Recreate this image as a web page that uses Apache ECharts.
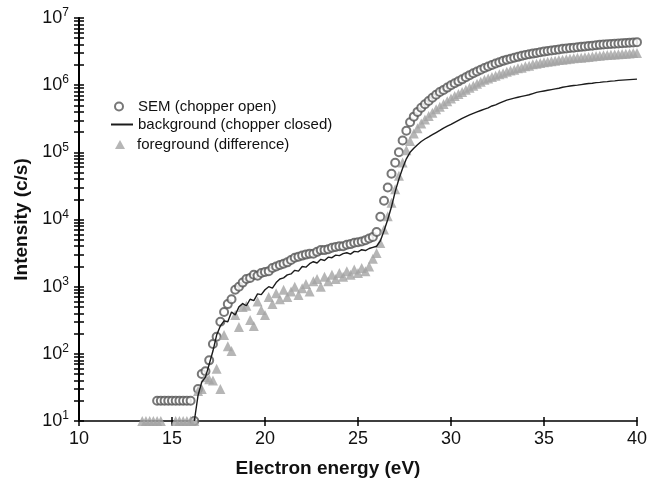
<!DOCTYPE html>
<html>
<head>
<meta charset="utf-8">
<script src="https://cdn.jsdelivr.net/npm/echarts@6/dist/echarts.min.js"></script>
<style>
  html, body { margin: 0; padding: 0; background: #fff; }
  #chart { width: 650px; height: 483px; }
</style>
</head>
<body>
<div id="chart"></div>
<script>
// energy grid (eV), one row = 2 eV
const energy = [
  13.4, 13.6, 13.8, 14.0, 14.2, 14.4, 14.6, 14.8, 15.0, 15.2,
  15.4, 15.6, 15.8, 16.0, 16.2, 16.4, 16.6, 16.8, 17.0, 17.2,
  17.4, 17.6, 17.8, 18.0, 18.2, 18.4, 18.6, 18.8, 19.0, 19.2,
  19.4, 19.6, 19.8, 20.0, 20.2, 20.4, 20.6, 20.8, 21.0, 21.2,
  21.4, 21.6, 21.8, 22.0, 22.2, 22.4, 22.6, 22.8, 23.0, 23.2,
  23.4, 23.6, 23.8, 24.0, 24.2, 24.4, 24.6, 24.8, 25.0, 25.2,
  25.4, 25.6, 25.8, 26.0, 26.2, 26.4, 26.6, 26.8, 27.0, 27.2,
  27.4, 27.6, 27.8, 28.0, 28.2, 28.4, 28.6, 28.8, 29.0, 29.2,
  29.4, 29.6, 29.8, 30.0, 30.2, 30.4, 30.6, 30.8, 31.0, 31.2,
  31.4, 31.6, 31.8, 32.0, 32.2, 32.4, 32.6, 32.8, 33.0, 33.2,
  33.4, 33.6, 33.8, 34.0, 34.2, 34.4, 34.6, 34.8, 35.0, 35.2,
  35.4, 35.6, 35.8, 36.0, 36.2, 36.4, 36.6, 36.8, 37.0, 37.2,
  37.4, 37.6, 37.8, 38.0, 38.2, 38.4, 38.6, 38.8, 39.0, 39.2,
  39.4, 39.6, 39.8, 40.0
]

// SEM (chopper open)
const semCounts = [
  null, null, null, null, 20, 20, 20, 20, 20, 20,
  20, 20, 20, 20, 10, 30, 50, 55, 80, 140,
  180, 300, 420, 550, 650, 900, 1000, 1150, 1300, 1350,
  1500, 1450, 1600, 1650, 1700, 1900, 2000, 2100, 2200, 2300,
  2500, 2700, 2800, 2900, 3000, 3100, 3100, 3300, 3500, 3500,
  3600, 3800, 3900, 4000, 4000, 4200, 4300, 4500, 4600, 4700,
  4900, 5200, 5500, 6500, 11000, 19000, 30000, 48000, 70000, 100000,
  1.5e5, 2.1e5, 2.8e5, 3.4e5, 4.0e5, 4.6e5, 5.2e5, 5.8e5, 6.5e5, 7.2e5,
  7.9e5, 8.5e5, 9.2e5, 1.0e6, 1.07e6, 1.14e6, 1.22e6, 1.31e6, 1.41e6, 1.5e6,
  1.6e6, 1.7e6, 1.8e6, 1.9e6, 2.0e6, 2.1e6, 2.2e6, 2.3e6, 2.4e6, 2.48e6,
  2.56e6, 2.64e6, 2.73e6, 2.82e6, 2.88e6, 2.95e6, 3.02e6, 3.09e6, 3.16e6, 3.22e6,
  3.28e6, 3.34e6, 3.4e6, 3.47e6, 3.52e6, 3.57e6, 3.62e6, 3.67e6, 3.72e6, 3.77e6,
  3.82e6, 3.87e6, 3.93e6, 3.98e6, 4.02e6, 4.06e6, 4.1e6, 4.13e6, 4.17e6, 4.21e6,
  4.25e6, 4.29e6, 4.33e6, 4.37e6
]

// background (chopper closed)
const backgroundCounts = [
  null, null, null, null, null, null, null, null, null, null,
  null, null, null, null, 10, 24, 38, 45, 70, 110,
  190, 260, 310, 300, 420, 380, 500, 560, 520, 650,
  620, 780, 760, 900, 1000, 950, 1150, 1300, 1350, 1500,
  1550, 1750, 1700, 2000, 1950, 2200, 2350, 2250, 2550, 2450,
  2750, 2700, 2950, 2900, 3100, 3200, 3050, 3350, 3300, 3550,
  3450, 3700, 3850, 4000, 4800, 6800, 10000, 15500, 26000, 40000,
  58000, 80000, 1.0e5, 1.15e5, 1.3e5, 1.45e5, 1.58e5, 1.7e5, 1.83e5, 1.97e5,
  2.12e5, 2.3e5, 2.45e5, 2.6e5, 2.8e5, 3.0e5, 3.2e5, 3.4e5, 3.6e5, 3.8e5,
  4.0e5, 4.2e5, 4.4e5, 4.6e5, 4.9e5, 5.1e5, 5.4e5, 5.7e5, 6.0e5, 6.2e5,
  6.4e5, 6.6e5, 6.8e5, 7.0e5, 7.2e5, 7.5e5, 7.8e5, 8.0e5, 8.2e5, 8.4e5,
  8.6e5, 8.8e5, 9.0e5, 9.3e5, 9.5e5, 9.7e5, 9.9e5, 1.0e6, 1.02e6, 1.04e6,
  1.06e6, 1.07e6, 1.09e6, 1.1e6, 1.12e6, 1.13e6, 1.15e6, 1.16e6, 1.18e6, 1.19e6,
  1.2e6, 1.21e6, 1.22e6, 1.23e6
]

// foreground (difference)
const foregroundCounts = [
  10, 10, 10, 10, 10, 10, null, null, null, 10,
  10, 10, 10, 10, 10, 28, 30, 45, 42, 40,
  60, 30, 190, 130, 110, 380, 250, 500, 520, 320,
  260, 600, 450, 380, 700, 550, 800, 650, 900, 700,
  850, 1000, 750, 950, 1100, 850, 1200, 1300, 1000, 1400,
  1200, 1500, 1300, 1600, 1400, 1700, 1500, 1800, 1600, 1900,
  1700, 2000, 2600, 3160, 4470, 7080, 11200, 17800, 28200, 44700,
  70800, 1.07e5, 1.48e5, 1.9e5, 2.29e5, 2.69e5, 3.09e5, 3.47e5, 3.89e5, 4.37e5,
  4.79e5, 5.25e5, 5.75e5, 6.31e5, 6.92e5, 7.41e5, 7.94e5, 8.51e5, 9.12e5, 9.77e5,
  1.05e6, 1.12e6, 1.2e6, 1.26e6, 1.32e6, 1.38e6, 1.45e6, 1.51e6, 1.58e6, 1.66e6,
  1.7e6, 1.78e6, 1.82e6, 1.91e6, 1.95e6, 2.04e6, 2.09e6, 2.14e6, 2.19e6, 2.23e6,
  2.27e6, 2.31e6, 2.36e6, 2.4e6, 2.44e6, 2.48e6, 2.52e6, 2.55e6, 2.57e6, 2.6e6,
  2.63e6, 2.67e6, 2.72e6, 2.75e6, 2.78e6, 2.81e6, 2.84e6, 2.87e6, 2.88e6, 2.91e6,
  2.94e6, 2.97e6, 3.0e6, 3.02e6
]

const legendNames = ['SEM (chopper open)', 'background (chopper closed)', 'foreground (difference)']
const yMajorTicks = [10, 100, 1e3, 1e4, 1e5, 1e6, 1e7]
const yMinorSteps = [2, 3, 4, 5, 6, 7, 8, 9]

let yAllTicks = yMajorTicks.slice()
yMajorTicks.slice(0, -1).forEach((m) => {
  yMinorSteps.forEach((k) => yAllTicks.push(m * k))
})

const pairs = (vals) => {
  let out = []
  energy.forEach((e, i) => {
    out.push([e, vals[i] == null ? '-' : vals[i]])
  })
  return out
}

const FONT = '"Liberation Sans", Arial, sans-serif'

// one legend per entry, so each icon gets its own size
const legendText = (padLeft) => ({ fontFamily: FONT, fontSize: 15, color: '#111', padding: [0, 0, 0, padLeft] })

const yAxisBase = {
  type: 'log',
  min: 10,
  max: 1e7,
  axisLine: { show: true, onZero: false, lineStyle: { color: '#000', width: 2 } },
  splitLine: { show: false },
  minorTick: { show: false }
}

const xAxisBase = {
  type: 'value',
  min: 10,
  max: 40,
  interval: 5,
  axisLine: { show: true, onZero: false, lineStyle: { color: '#000', width: 1.5 } },
  splitLine: { show: false }
}

let option = {
  animation: false,
  backgroundColor: '#fff',
  grid: { left: 79, right: 12, top: 18, bottom: 61 },
  legend: [
    {
      data: [{ name: legendNames[0], icon: 'emptyCircle' }],
      left: 109,
      top: 94,
      itemWidth: 8,
      itemHeight: 8,
      textStyle: legendText(10)
    },
    {
      data: [{ name: legendNames[1], icon: 'rect' }],
      left: 106,
      top: 112,
      itemWidth: 22,
      itemHeight: 2,
      textStyle: legendText(0)
    },
    {
      data: [{ name: legendNames[2], icon: 'triangle' }],
      left: 110,
      top: 132,
      itemWidth: 10,
      itemHeight: 9,
      textStyle: legendText(7)
    }
  ],
  xAxis: [
    Object.assign({}, xAxisBase, {
      name: 'Electron energy (eV)',
      nameLocation: 'middle',
      nameGap: 38,
      nameTextStyle: { fontFamily: FONT, fontSize: 19, fontWeight: 'bold', color: '#111', padding: [0, 60, 0, 0] },
      axisTick: { show: true, inside: false, length: 5, lineStyle: { color: '#000', width: 1.5 } },
      axisLabel: { fontFamily: FONT, fontSize: 18, color: '#111', margin: 9 }
    }),
    Object.assign({}, xAxisBase, {
      position: 'bottom',
      axisLine: { show: false },
      axisTick: { show: true, inside: true, length: 4, lineStyle: { color: '#000', width: 1.5 } },
      axisLabel: { show: false }
    })
  ],
  yAxis: [
    Object.assign({}, yAxisBase, {
      name: 'Intensity (c/s)',
      nameLocation: 'middle',
      nameGap: 48,
      nameTextStyle: { fontFamily: FONT, fontSize: 19, fontWeight: 'bold', color: '#111' },
      axisTick: { show: true, inside: false, length: 5, customValues: yAllTicks, lineStyle: { color: '#000', width: 1.5 } },
      axisLabel: {
        customValues: yMajorTicks,
        margin: 10,
        formatter: (v) => '{b|10}{s|' + Math.round(Math.log10(v)) + '}',
        rich: {
          b: { fontFamily: FONT, fontSize: 18, color: '#111', lineHeight: 22 },
          s: { fontFamily: FONT, fontSize: 12, color: '#111', lineHeight: 22, verticalAlign: 'top' }
        }
      }
    }),
    Object.assign({}, yAxisBase, {
      position: 'left',
      axisLine: { show: false },
      axisTick: { show: true, inside: true, length: 5, customValues: yAllTicks, lineStyle: { color: '#000', width: 1.5 } },
      axisLabel: { show: false }
    })
  ],
  series: [
    {
      name: legendNames[0],
      type: 'scatter',
      symbol: 'emptyCircle',
      symbolSize: 8,
      itemStyle: { color: '#555', borderColor: '#555', borderWidth: 1.5 },
      z: 2,
      data: pairs(semCounts)
    },
    {
      name: legendNames[2],
      type: 'scatter',
      symbol: 'triangle',
      symbolSize: 10,
      itemStyle: { color: '#a4a4a4' },
      z: 3,
      data: pairs(foregroundCounts)
    },
    {
      name: legendNames[1],
      type: 'line',
      symbol: 'none',
      connectNulls: false,
      lineStyle: { color: '#1c1c1c', width: 1.4 },
      itemStyle: { color: '#1c1c1c' },
      z: 4,
      data: pairs(backgroundCounts)
    }
  ]
}

const myChart = echarts.init(document.getElementById('chart'))
myChart.setOption(option)
</script>
</body>
</html>
